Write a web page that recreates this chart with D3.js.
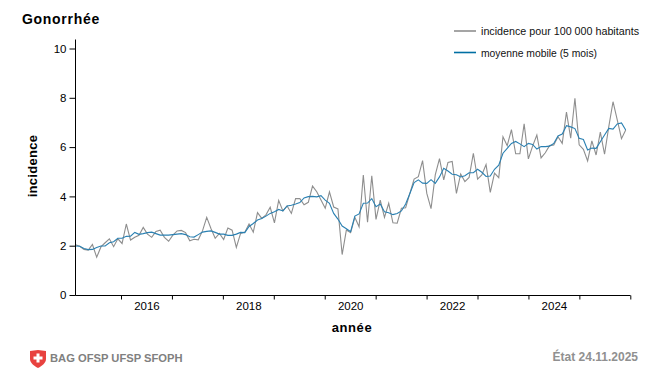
<!DOCTYPE html>
<html>
<head>
<meta charset="utf-8">
<script src="https://cdn.jsdelivr.net/npm/d3@7"></script>
<style>
  html, body { margin: 0; padding: 0; background: #fff; }
  svg { display: block; }
  text { font-family: "Liberation Sans", Arial, sans-serif; }
</style>
</head>
<body>
<svg id="chart" width="650" height="368"></svg>
<script>
var incidence = [2.04,1.98,1.85,1.82,2.05,1.53,1.95,2.12,2.28,1.96,2.28,2.09,2.88,2.23,2.34,2.42,2.74,2.47,2.34,2.58,2.63,2.34,2.18,2.43,2.6,2.62,2.53,2.2,2.26,2.24,2.6,3.15,2.7,2.3,2.5,2.25,2.72,2.63,1.93,2.5,2.55,2.88,2.55,3.34,3.11,3.25,3.56,2.93,3.84,3.41,3.61,3.31,3.91,3.91,3.66,3.76,4.42,4.19,3.85,3.52,4.18,3.57,3.49,1.64,2.64,2.53,3.15,2.77,4.87,2.95,4.84,3.07,3.85,3.15,3.72,2.93,2.91,3.52,3.54,4.12,4.7,4.8,5.45,4.12,3.5,4.87,5.53,4.67,5.38,5.42,4.12,4.91,4.6,4.77,5.75,4.7,4.87,5.29,4.16,4.94,4.76,6.42,6.06,6.71,5.73,5.73,6.94,5.52,6.04,6.49,5.56,5.77,6.06,6.09,6.42,6.15,7.42,6.36,7.98,6.09,5.91,5.44,6.25,5.68,6.61,5.71,6.83,7.84,7.1,6.34,6.69];
var moyenne = [1.99,1.98,1.89,1.84,1.85,1.93,1.99,1.99,2.12,2.16,2.3,2.3,2.38,2.39,2.54,2.46,2.49,2.53,2.55,2.49,2.43,2.43,2.43,2.45,2.47,2.49,2.45,2.36,2.35,2.45,2.55,2.58,2.6,2.54,2.47,2.47,2.42,2.42,2.47,2.54,2.53,2.78,2.9,3.04,3.1,3.2,3.31,3.38,3.47,3.41,3.61,3.64,3.69,3.75,3.94,3.99,4.0,3.98,4.03,3.85,3.72,3.31,3.08,2.8,2.69,2.57,3.2,3.29,3.72,3.73,3.91,3.58,3.69,3.38,3.34,3.26,3.31,3.41,3.69,4.12,4.56,4.67,4.54,4.53,4.68,4.53,4.79,5.14,5.03,4.9,4.88,4.79,4.84,4.96,4.96,5.1,4.98,4.81,4.83,5.1,5.27,5.75,5.95,6.15,6.23,6.13,6.02,6.15,6.11,5.92,6.02,6.02,6.04,6.15,6.45,6.53,6.87,6.82,6.75,6.36,6.31,5.88,5.96,5.95,6.22,6.49,6.76,6.73,6.94,6.98,6.69];
var yTicks = [0,2,4,6,8,10];
var yearTicks = [2016,2017,2018,2019,2020,2021,2022,2023,2024,2025,2026];
var yearLabels = [2016,2018,2020,2022,2024];

// monthly periods, first one in early 2015
var firstYear = 2015.107, yearStep = 0.0831;

var svg = d3.select("#chart");

var x = d3.scaleLinear().domain([2016,2026]).range([121,630.3]);
var y = d3.scaleLinear().domain([0,10]).range([295,48.5]);

var line = d3.line()
  .x(function(d,i){ return x(firstYear + i*yearStep); })
  .y(function(d){ return y(d); });

/*Lines*/
svg.append("path")
  .attr("d", line(incidence))
  .attr("fill","none")
  .attr("stroke","#8e8e8e")
  .attr("stroke-width",1.1);

svg.append("path")
  .attr("d", line(moyenne))
  .attr("fill","none")
  .attr("stroke","#2a80b2")
  .attr("stroke-width",1.1);

/*Axes*/
var gy = svg.append("g")
  .attr("transform","translate(75.5,0)")
  .call(d3.axisLeft(y).tickValues(yTicks).tickSize(6).tickPadding(3).tickFormat(d3.format("d")));
gy.select(".domain").attr("d","M0,39.5V295.5");

var gx = svg.append("g")
  .attr("transform","translate(0,295.5)")
  .call(d3.axisBottom(x).tickValues(yearTicks).tickSize(4).tickFormat(""));
gx.select(".domain").attr("d","M75.5,0H630.5");

var gl = svg.append("g")
  .attr("transform","translate(0,295.5)")
  .call(d3.axisBottom(x).tickValues(yearLabels.map(function(d){ return d+0.5; })).tickSize(0).tickPadding(6).tickFormat(function(d){ return Math.floor(d); }));
gl.select(".domain").remove();

svg.selectAll("path.domain, .tick line").attr("stroke","#000").attr("stroke-width",1);
svg.selectAll(".tick text").attr("font-family","Liberation Sans").attr("font-size",11.5).attr("fill","#000");

/*Titles*/
svg.append("text").attr("x",22).attr("y",24)
  .attr("font-size",14).attr("font-weight","bold").attr("letter-spacing",0.7)
  .text("Gonorrhée");
svg.append("text").attr("x",352).attr("y",332).attr("text-anchor","middle")
  .attr("font-size",13).attr("font-weight","bold").attr("letter-spacing",0.6).text("année");
svg.append("text").attr("transform","translate(37,166) rotate(-90)").attr("text-anchor","middle")
  .attr("font-size",13).attr("font-weight","bold").attr("letter-spacing",0.3).text("incidence");

/*Legend*/
var legendItems = ["incidence pour 100 000 habitants","moyenne mobile (5 mois)"];
var legendColors = ["#8e8e8e","#006fa3"];
var legendWidths = [158,116];
legendItems.forEach(function(t,i){
  var ly = 31 + i*21.5;
  svg.append("line").attr("x1",454).attr("x2",476).attr("y1",ly).attr("y2",ly)
    .attr("stroke",legendColors[i]).attr("stroke-width",1.6);
  svg.append("text").attr("x",481).attr("y",ly+4).attr("font-size",11)
    .attr("textLength",legendWidths[i]).attr("lengthAdjust","spacingAndGlyphs")
    .attr("fill","#111").text(t);
});

/*Footer*/
var logo = svg.append("g").attr("transform","translate(30,350)");
logo.append("path").attr("d","M0,1L8,0L16,1V9C16,13 12,16 8,18C4,16 0,13 0,9Z").attr("fill","#e8423f");
logo.append("path").attr("d","M6.5,3.5H9.5V6.5H12.5V9.5H9.5V12.5H6.5V9.5H3.5V6.5H6.5Z").attr("fill","#fff");
svg.append("text").attr("x",50).attr("y",362).attr("font-size",11.2).attr("font-weight","bold")
  .attr("fill","#808080").text("BAG OFSP UFSP SFOPH");
svg.append("text").attr("x",638).attr("y",361).attr("text-anchor","end").attr("font-size",12).attr("font-weight","bold")
  .attr("fill","#909090").text("État 24.11.2025");
</script>
</body>
</html>
